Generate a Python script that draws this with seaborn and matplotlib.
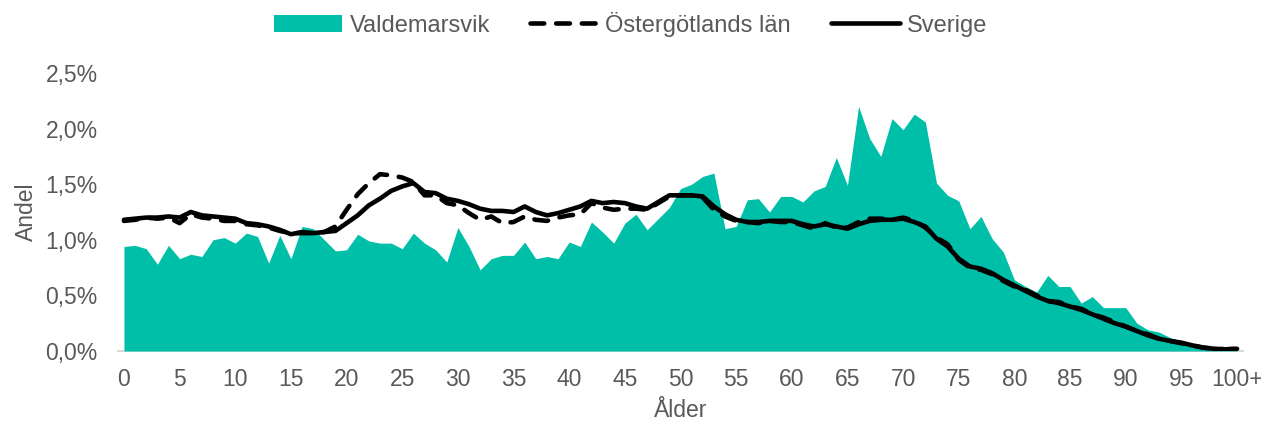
import matplotlib
matplotlib.use("Agg")
import matplotlib.pyplot as plt
import pandas as pd
import seaborn as sns
from matplotlib.ticker import FuncFormatter

# Andel av befolkningen per ålder (procent)
ages = list(range(101))
age_labels = [str(a) for a in range(0, 100, 5)] + ["100+"]

valdemarsvik = [
    0.94, 0.95, 0.92, 0.78, 0.95, 0.83, 0.87, 0.85, 1.00, 1.02,
    0.97, 1.06, 1.03, 0.79, 1.04, 0.83, 1.12, 1.10, 1.00, 0.90,
    0.91, 1.05, 0.99, 0.97, 0.97, 0.92, 1.06, 0.97, 0.91, 0.80,
    1.11, 0.94, 0.73, 0.83, 0.86, 0.86, 0.98, 0.83, 0.85, 0.83,
    0.98, 0.94, 1.16, 1.07, 0.97, 1.15, 1.23, 1.09, 1.19, 1.29,
    1.46, 1.50, 1.57, 1.60, 1.10, 1.12, 1.36, 1.37, 1.25, 1.39,
    1.39, 1.34, 1.44, 1.48, 1.74, 1.49, 2.20, 1.91, 1.75, 2.09,
    1.99, 2.13, 2.06, 1.51, 1.40, 1.35, 1.10, 1.21, 1.01, 0.89,
    0.64, 0.58, 0.53, 0.68, 0.58, 0.58, 0.43, 0.49, 0.39, 0.39,
    0.39, 0.25, 0.19, 0.17, 0.12, 0.09, 0.07, 0.04, 0.03, 0.02, 0.02,
]

ostergotland = [
    1.17, 1.18, 1.20, 1.19, 1.20, 1.15, 1.23, 1.20, 1.19, 1.17,
    1.17, 1.14, 1.13, 1.11, 1.08, 1.06, 1.06, 1.06, 1.07, 1.12,
    1.27, 1.41, 1.51, 1.59, 1.58, 1.56, 1.52, 1.40, 1.40, 1.33,
    1.31, 1.24, 1.18, 1.21, 1.15, 1.16, 1.21, 1.18, 1.17, 1.20,
    1.22, 1.23, 1.33, 1.29, 1.27, 1.28, 1.28, 1.27, 1.33, 1.39,
    1.40, 1.40, 1.38, 1.27, 1.21, 1.17, 1.16, 1.15, 1.17, 1.16,
    1.16, 1.13, 1.10, 1.15, 1.11, 1.11, 1.16, 1.19, 1.19, 1.18,
    1.20, 1.17, 1.11, 1.02, 0.96, 0.82, 0.75, 0.73, 0.69, 0.63,
    0.58, 0.55, 0.50, 0.45, 0.44, 0.40, 0.38, 0.33, 0.30, 0.26,
    0.22, 0.18, 0.15, 0.11, 0.09, 0.07, 0.05, 0.03, 0.02, 0.015, 0.02,
]

sverige = [
    1.18, 1.19, 1.20, 1.20, 1.21, 1.20, 1.25, 1.22, 1.21, 1.20,
    1.19, 1.15, 1.14, 1.12, 1.09, 1.05, 1.07, 1.06, 1.07, 1.08,
    1.15, 1.22, 1.31, 1.37, 1.44, 1.48, 1.51, 1.43, 1.42, 1.37,
    1.35, 1.32, 1.28, 1.26, 1.26, 1.25, 1.30, 1.25, 1.22, 1.24,
    1.27, 1.30, 1.35, 1.33, 1.34, 1.33, 1.30, 1.28, 1.34, 1.40,
    1.40, 1.40, 1.39, 1.30, 1.23, 1.18, 1.16, 1.16, 1.17, 1.17,
    1.17, 1.14, 1.12, 1.14, 1.12, 1.10, 1.14, 1.17, 1.18, 1.18,
    1.19, 1.16, 1.12, 1.01, 0.94, 0.83, 0.76, 0.74, 0.70, 0.64,
    0.59, 0.54, 0.49, 0.45, 0.43, 0.40, 0.37, 0.33, 0.29, 0.25,
    0.22, 0.18, 0.14, 0.11, 0.09, 0.075, 0.05, 0.03, 0.02, 0.015, 0.02,
]

df = pd.DataFrame({
    "age": ages,
    "Valdemarsvik": valdemarsvik,
    "Östergötlands län": ostergotland,
    "Sverige": sverige,
})

sns.set_style("white")
plt.rcParams["font.family"] = ["Liberation Sans", "DejaVu Sans"]

teal = "#00BFA9"
grey = "#595959"
fs = 16.5

fig = plt.figure(figsize=(12.61, 4.23), dpi=100)
ax = fig.add_axes([0.0939, 0.1702, 0.8915, 0.6572])

ax.fill_between(df["age"], df["Valdemarsvik"], 0, color=teal, linewidth=0,
                label="Valdemarsvik")
sns.lineplot(data=df, x="age", y="Östergötlands län", ax=ax, color="black",
             linewidth=3.3, linestyle=(0, (3.0, 2.6)), dash_capstyle="round",
             label="Östergötlands län")
sns.lineplot(data=df, x="age", y="Sverige", ax=ax, color="black",
             linewidth=3.3, solid_capstyle="round", label="Sverige")

ax.set_xlim(-0.5, 100.5)
ax.set_ylim(0, 2.5)
ax.set_xticks(range(0, 101, 5))
ax.set_xticklabels(age_labels)
ax.set_yticks([0, 0.5, 1.0, 1.5, 2.0, 2.5])
ax.yaxis.set_major_formatter(FuncFormatter(lambda v, p: f"{v:.1f}%".replace(".", ",")))
ax.tick_params(axis="both", length=0, labelsize=fs, labelcolor=grey)
ax.tick_params(axis="x", pad=12)
ax.tick_params(axis="y", pad=15)

for s in ["top", "right", "left"]:
    ax.spines[s].set_visible(False)
ax.spines["bottom"].set_color("#D9D9D9")
ax.spines["bottom"].set_linewidth(1.5)
ax.spines["bottom"].set_zorder(0)

ax.set_xlabel("Ålder", fontsize=fs, color=grey, labelpad=6)
ax.set_ylabel("Andel", fontsize=fs, color=grey, labelpad=5)

ax.legend_.remove()
handles, labels = ax.get_legend_handles_labels()
fig.legend(handles, labels, loc="center", bbox_to_anchor=(0.5, 0.943), ncol=3,
           frameon=False, fontsize=17, labelcolor=grey, handlelength=2.9,
           handletextpad=0.3, columnspacing=1.7)

fig.savefig("out.png", dpi=100)
